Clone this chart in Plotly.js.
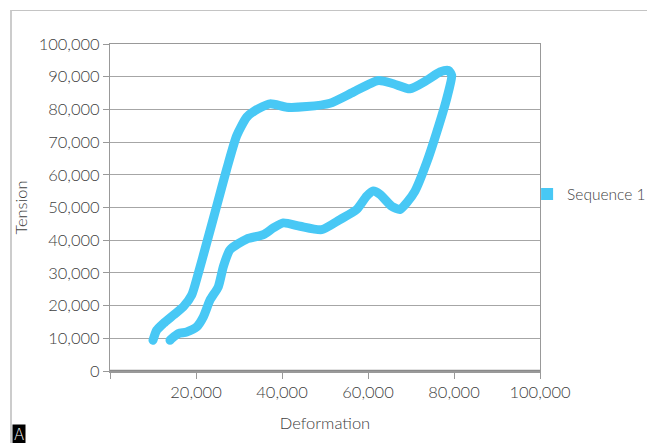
<!DOCTYPE html>
<html>
<head>
<meta charset="utf-8">
<script src="https://cdn.plot.ly/plotly-3.0.1.min.js"></script>
<style>
  html, body { margin: 0; padding: 0; background: #fff; }
  #wrap { position: relative; width: 647px; height: 443px; }
  #chart { width: 647px; height: 443px; }
  #frame { position: absolute; left: 10px; top: 10px; right: -2px; bottom: -2px;
           border-left: 2px solid #cccccc; border-top: 1.5px solid #c4c4c4; pointer-events: none; }
  .scatterlayer path.js-line { stroke-linecap: round; stroke-linejoin: round; }
</style>
</head>
<body>
<div id="wrap">
  <div id="chart"></div>
  <div id="frame"></div>
</div>
<script>
// Data
const seriesName = "Sequence 1";
const deformation = [
  10000, 10850, 12400, 14730, 17050, 19000, 20540, 22480, 24810, 27130,
  29460, 31780, 33720, 37210, 41080, 45740, 51160, 56580, 62400, 65890,
  69770, 73640, 76740, 78680, 79460, 78290, 75970, 73640, 70930, 68990,
  67440, 65500, 62790, 61240, 59690, 57360, 53490, 49220, 44190, 40310,
  37980, 35660, 31780, 27910, 26360, 25190, 23260, 21710, 20160, 17830,
  15890, 14340, 13950
];
const tension = [
  9400, 12460, 14520, 17080, 19630, 23230, 29900, 39140, 50400, 61700,
  71940, 77600, 79640, 81690, 80670, 80870, 81900, 85290, 88860, 87850,
  86310, 88860, 91450, 91940, 90400, 83230, 72980, 63750, 55020, 51430,
  49390, 50400, 54000, 55020, 53480, 49390, 46310, 43230, 44250, 45290,
  43750, 41690, 40360, 37080, 31940, 25790, 21690, 16560, 13480, 11940,
  11450, 9900, 9400
];
const xTickVals = [0, 20000, 40000, 60000, 80000, 100000];
const xTickText = ["", "20,000", "40,000", "60,000", "80,000", "100,000"];
const yTickVals = [0, 10000, 20000, 30000, 40000, 50000, 60000, 70000, 80000, 90000, 100000];
const yTickText = ["0", "10,000", "20,000", "30,000", "40,000", "50,000", "60,000", "70,000", "80,000", "90,000", "100,000"];
const xTitle = "Deformation";
const yTitle = "Tension";
const panelLabel = "A";

const lineColor = "#48c8f5";
const textColor = "#404040";
const fontFam = "Lato, 'Open Sans', sans-serif";

const traces = [
  {
    x: deformation, y: tension, type: "scatter", mode: "lines",
    line: { color: lineColor, width: 9, shape: "spline", smoothing: 0.6 },
    showlegend: false, hoverinfo: "skip"
  },
  {
    x: [null], y: [null], type: "scatter", mode: "markers", name: seriesName,
    marker: { symbol: "square", size: 12, color: lineColor },
    showlegend: true
  }
];

const lightFont = (sz) => ({ family: fontFam, size: sz, color: textColor, weight: 300 });

const layout = {
  width: 647, height: 443,
  margin: { l: 110, r: 107, t: 44, b: 72, autoexpand: false },
  paper_bgcolor: "#ffffff", plot_bgcolor: "#ffffff",
  font: lightFont(16),
  xaxis: {
    range: [0, 100000], tickvals: xTickVals, ticktext: xTickText,
    ticks: "outside", ticklen: 6, tickcolor: "#999", tickwidth: 1,
    showgrid: false, zeroline: false,
    showline: true, linecolor: "#999", linewidth: 1.5, mirror: true,
    tickfont: lightFont(16.5),
    title: { text: xTitle, font: lightFont(16.5), standoff: 16 }
  },
  yaxis: {
    range: [0, 100000], tickvals: yTickVals, ticktext: yTickText,
    ticks: "outside", ticklen: 6, tickcolor: "#999", tickwidth: 1,
    showgrid: true, gridcolor: "#a6a6a6", gridwidth: 1,
    zeroline: false,
    showline: true, linecolor: "#999", linewidth: 1, mirror: true,
    tickfont: lightFont(16.5),
    title: { text: yTitle, font: lightFont(16.5), standoff: 6 }
  },
  legend: {
    x: 0.97, xanchor: "left", y: 0.54, yanchor: "middle",
    font: lightFont(15.5),
    itemwidth: 30, bgcolor: "rgba(0,0,0,0)"
  },
  shapes: [
    { type: "line", xref: "paper", yref: "y", x0: 0, x1: 1, y0: 0, y1: 0,
      line: { color: "#8a8a8a", width: 2.5 } }
  ],
  annotations: [
    { text: panelLabel, xref: "paper", yref: "paper", x: -0.2116, y: -0.1957,
      xanchor: "center", yanchor: "middle", showarrow: false,
      bgcolor: "#000000", font: { family: "'DejaVu Sans', sans-serif", size: 15, color: "#ffffff" },
      borderpad: 1 }
  ]
};

Plotly.newPlot("chart", traces, layout, { displayModeBar: false, staticPlot: true });
</script>
</body>
</html>
